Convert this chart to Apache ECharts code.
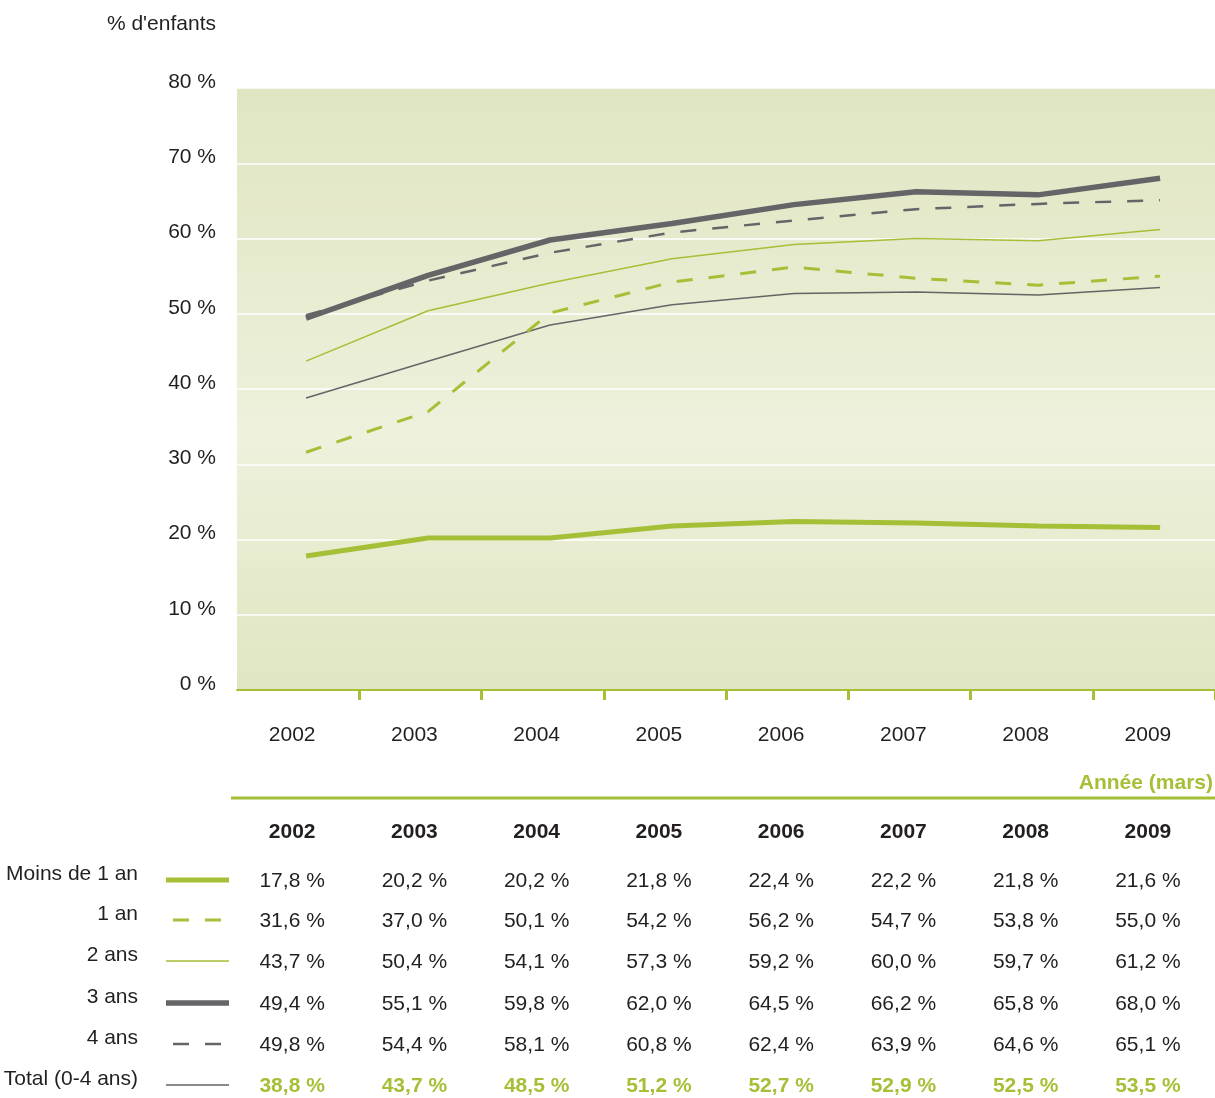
<!DOCTYPE html>
<html lang="fr">
<head>
    <meta charset="UTF-8">
    <title>% d'enfants</title>
    <script src="https://cdn.jsdelivr.net/npm/echarts@6/dist/echarts.min.js"></script>
    <style>
        html, body { margin: 0; padding: 0; background: #fff; }
        #container { width: 1215px; height: 1098px; }
    </style>
</head>
<body>
<div id="container"></div>
<script type="text/javascript">
    // données
    var years = ['2002', '2003', '2004', '2005', '2006', '2007', '2008', '2009'];
    var yTicks = [0, 10, 20, 30, 40, 50, 60, 70, 80];
    var seriesNames = ['Moins de 1 an', '1 an', '2 ans', '3 ans', '4 ans', 'Total (0-4 ans)'];
    var moins1 = [17.8, 20.2, 20.2, 21.8, 22.4, 22.2, 21.8, 21.6];
    var an1 = [31.6, 37.0, 50.1, 54.2, 56.2, 54.7, 53.8, 55.0];
    var ans2 = [43.7, 50.4, 54.1, 57.3, 59.2, 60.0, 59.7, 61.2];
    var ans3 = [49.4, 55.1, 59.8, 62.0, 64.5, 66.2, 65.8, 68.0];
    var ans4 = [49.8, 54.4, 58.1, 60.8, 62.4, 63.9, 64.6, 65.1];
    var total = [38.8, 43.7, 48.5, 51.2, 52.7, 52.9, 52.5, 53.5];

    var GREEN = '#a5bf37';
    var GREY = '#656567';
    var TXT = '#231f20';
    var FONT = '"Liberation Sans Narrow", "Liberation Sans", Arial, sans-serif';

    var styles = [
        {color: GREEN, width: 5, type: 'solid'},
        {color: GREEN, width: 3, type: [16, 16]},
        {color: GREEN, width: 1.5, type: 'solid'},
        {color: GREY, width: 5.5, type: 'solid'},
        {color: GREY, width: 2.5, type: [16, 16]},
        {color: GREY, width: 1.5, type: 'solid'}
    ];
    var allData = [moins1, an1, ans2, ans3, ans4, total];

    function fmt(v) {
        return v.toFixed(1).replace('.', ',') + ' %';
    }

    var myChart = echarts.init(document.getElementById('container'));

    var series = allData.map(function (arr, i) {
        return {
            name: seriesNames[i],
            type: 'line',
            xAxisIndex: 1,
            symbol: 'none',
            z: 10 - i,
            lineStyle: {color: styles[i].color, width: styles[i].width, type: styles[i].type, cap: 'butt'},
            data: arr.map(function (v, k) { return [k, v]; })
        };
    });

    var option = {
        animation: false,
        grid: {
            left: 237, right: 0, top: 88, bottom: 408,
            show: true,
            borderWidth: 0,
            backgroundColor: new echarts.graphic.LinearGradient(0, 0, 0, 1, [
                {offset: 0, color: '#e0e5c1'},
                {offset: 0.58, color: '#eef1dc'},
                {offset: 1, color: '#e0e5c1'}
            ])
        },
        xAxis: [{
            type: 'category',
            data: years,
            boundaryGap: true,
            axisLine: {lineStyle: {color: GREEN, width: 2}},
            axisTick: {
                show: true, length: 10,
                interval: function (i) { return i !== 0; },
                lineStyle: {color: GREEN, width: 3}
            },
            axisLabel: {color: TXT, fontFamily: FONT, fontSize: 21, margin: 35, padding: [0, 12, 0, 0]}
        }, {
            type: 'value',
            min: -0.566,
            max: 7.45,
            show: false
        }],
        yAxis: {
            type: 'value',
            min: yTicks[0],
            max: yTicks[yTicks.length - 1],
            interval: 10,
            axisLine: {show: false},
            axisTick: {show: false},
            splitLine: {lineStyle: {color: '#ffffff', width: 1.5}},
            axisLabel: {
                color: TXT, fontFamily: FONT, fontSize: 21, margin: 21,
                verticalAlign: 'bottom', lineHeight: 12,
                formatter: '{value} %'
            }
        },
        series: series
    };
    myChart.setOption(option);

    // tableau sous le graphique
    var cols = years.map(function (y) {
        return myChart.convertToPixel({xAxisIndex: 0}, y) - 6;
    });
    var rowY = [881, 921, 962, 1004, 1045, 1086];
    var g = [];
    g.push({type: 'text', x: 216, y: 24, style: {text: "% d'enfants", font: '21px ' + FONT, fill: TXT, textAlign: 'right', textVerticalAlign: 'middle'}});
    g.push({type: 'text', x: 1213, y: 783, style: {text: 'Année (mars)', font: 'bold 21px ' + FONT, fill: GREEN, textAlign: 'right', textVerticalAlign: 'middle'}});
    g.push({type: 'line', shape: {x1: 231, y1: 798, x2: 1215, y2: 798}, style: {stroke: GREEN, lineWidth: 3}});
    years.forEach(function (y, k) {
        g.push({type: 'text', x: cols[k], y: 832, style: {text: y, font: 'bold 21px ' + FONT, fill: TXT, textAlign: 'center', textVerticalAlign: 'middle'}});
    });
    allData.forEach(function (arr, i) {
        var ry = rowY[i];
        g.push({type: 'text', x: 138, y: ry - 7, style: {text: seriesNames[i], font: '21px ' + FONT, fill: TXT, textAlign: 'right', textVerticalAlign: 'middle'}});
        var dashed = typeof styles[i].type !== 'string';
        g.push({type: 'line',
            shape: {x1: dashed ? 173 : 166, y1: ry - 1, x2: dashed ? 221 : 229, y2: ry - 1},
            style: {stroke: styles[i].color, lineWidth: styles[i].width, lineDash: dashed ? [16, 16] : null}});
        var isTotal = i === allData.length - 1;
        arr.forEach(function (v, k) {
            g.push({type: 'text', x: cols[k], y: ry, style: {
                text: fmt(v),
                font: (isTotal ? 'bold ' : '') + '21px ' + FONT,
                fill: isTotal ? GREEN : TXT,
                textAlign: 'center', textVerticalAlign: 'middle'}});
        });
    });
    myChart.setOption({graphic: g});
</script>
</body>
</html>
